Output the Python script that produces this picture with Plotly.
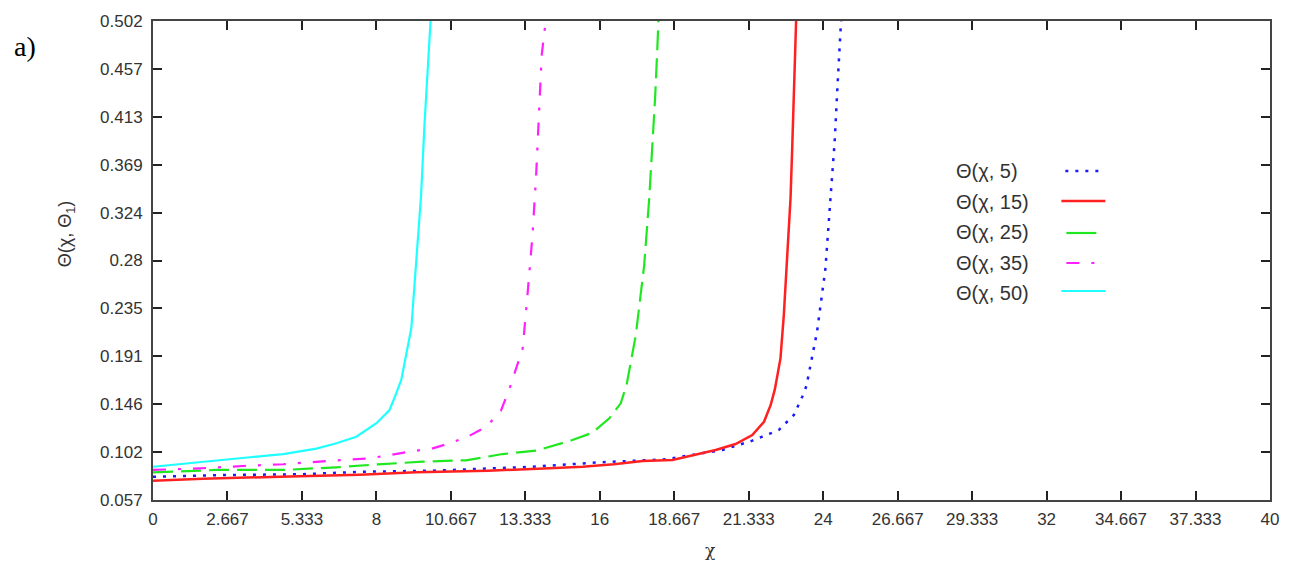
import plotly.graph_objects as go

# ---- data ----
x_ticks = [0, 2.667, 5.333, 8, 10.667, 13.333, 16, 18.667, 21.333, 24, 26.667, 29.333, 32, 34.667, 37.333, 40]
x_ticktext = ["0", "2.667", "5.333", "8", "10.667", "13.333", "16", "18.667", "21.333", "24",
              "26.667", "29.333", "32", "34.667", "37.333", "40"]
y_ticks = [0.057, 0.1015, 0.146, 0.1905, 0.235, 0.2795, 0.324, 0.3685, 0.413, 0.4575, 0.502]
y_ticktext = ["0.057", "0.102", "0.146", "0.191", "0.235", "0.28", "0.324", "0.369", "0.413", "0.457", "0.502"]

series_names = ["Θ(χ, 5)", "Θ(χ, 15)", "Θ(χ, 25)", "Θ(χ, 35)", "Θ(χ, 50)"]

blue_x = [0, 2.63, 5.25, 7.64, 10.02, 13.59, 15.98, 18.36, 20.39, 21.46, 22.41, 22.95, 23.25, 23.40,
          23.78, 24.08, 24.26, 24.41, 24.52, 24.64]
blue_y = [0.0786, 0.0802, 0.0809, 0.0833, 0.0842, 0.0879, 0.0920, 0.0948, 0.1035, 0.1121, 0.122, 0.136,
          0.153, 0.163, 0.2134, 0.272, 0.337, 0.3899, 0.4456, 0.502]

red_x = [0, 1.78, 4.54, 7.4, 9.43, 12.0, 14.19, 15.38, 16.5, 17.53, 18.6, 19.2, 20.15, 20.86, 21.46,
         21.88, 22.12, 22.27, 22.47, 22.59, 22.71, 22.83, 22.89, 22.95, 23.03]
red_y = [0.0749, 0.0768, 0.0786, 0.0805, 0.0827, 0.0842, 0.0864, 0.0879, 0.0902, 0.0932, 0.0942, 0.0979,
         0.1035, 0.109, 0.1174, 0.1297, 0.1453, 0.160, 0.1886, 0.2289, 0.2846, 0.3373, 0.3837, 0.4456, 0.502]

green_x = [0, 2.28, 4.66, 6.57, 8.23, 9.66, 11.21, 12.52, 13.72, 15.02, 15.74, 16.34, 16.75, 16.96,
           17.29, 17.59, 17.77, 17.88, 17.98, 18.06, 18.10]
green_y = [0.0827, 0.0849, 0.0849, 0.0874, 0.0904, 0.0926, 0.0939, 0.0997, 0.1028, 0.1127, 0.1195, 0.1329,
           0.1468, 0.164, 0.2103, 0.2753, 0.3373, 0.3837, 0.4302, 0.4767, 0.502]

magenta_x = [0, 1.68, 3.23, 4.66, 6.21, 7.76, 9.19, 10.02, 10.62, 11.27, 11.93, 12.46, 12.76, 13.24,
             13.42, 13.59, 13.72, 13.81, 13.92, 14.04]
magenta_y = [0.0849, 0.0864, 0.0886, 0.0902, 0.0932, 0.0957, 0.1019, 0.105, 0.1097, 0.1158, 0.125, 0.140,
             0.160, 0.198, 0.2505, 0.303, 0.359, 0.4147, 0.4704, 0.497]

cyan_x = [0, 1.44, 2.28, 3.47, 4.66, 5.85, 6.57, 7.28, 8.0, 8.47, 8.71, 8.89, 9.25, 9.43, 9.60, 9.72,
          9.88, 9.94]
cyan_y = [0.0879, 0.0917, 0.0942, 0.0967, 0.0997, 0.1047, 0.1097, 0.1158, 0.1283, 0.1406, 0.156, 0.1685,
          0.2165, 0.2846, 0.340, 0.405, 0.4735, 0.502]

# ---- styling ----
colors = ["#1a1aff", "#ff2020", "#20e820", "#ff20ff", "#20ffff"]
dashes = ["3px,7px", "solid", "20px,8px", "13px,12px,3px,12px", "solid"]
legend_dashes = ["3px,7px", "solid", "solid", "13px,12px,3px,12px", "solid"]
widths = [2.5, 2.5, 2.2, 2.2, 2.2]

xs = [blue_x, red_x, green_x, magenta_x, cyan_x]
ys = [blue_y, red_y, green_y, magenta_y, cyan_y]

fig = go.Figure()
for name, x, y, c, d, w in zip(series_names, xs, ys, colors, dashes, widths):
    fig.add_trace(go.Scatter(x=x, y=y, mode="lines", name=name,
                             line=dict(color=c, dash=d, width=w), showlegend=False))

L, R, T, B = 153, 1272, 21, 500
W, H = 1291, 561

def px(xp):
    return (xp - L) / (R - L)

def py(yp):
    return (B - yp) / (B - T)

annotations = []
shapes = []
legend_rows = [171, 202, 232, 263, 293]
line_rows = [171, 201, 233, 263, 291]
line_x0 = [1067, 1063, 1068, 1068, 1063]
line_x1 = [1104, 1107, 1098, 1098, 1107]
for name, yr, yl, c, d, w, a0, a1 in zip(series_names, legend_rows, line_rows, colors,
                                          legend_dashes, widths, line_x0, line_x1):
    annotations.append(dict(x=px(955), y=py(yr), xref="paper", yref="paper", text=name,
                            showarrow=False, xanchor="left", yanchor="middle",
                            font=dict(family="Liberation Sans, Arial", size=20, color="#333333")))
    shapes.append(dict(type="line", xref="paper", yref="paper", x0=px(a0), x1=px(a1),
                       y0=py(yl), y1=py(yl), line=dict(color=c, dash=d, width=w)))

annotations.append(dict(x=px(66), y=py(234), xref="paper", yref="paper",
                        text="Θ(χ, Θ<sub>1</sub>)", textangle=-90, showarrow=False,
                        xanchor="center", yanchor="middle",
                        font=dict(family="Liberation Sans, Arial", size=18, color="#333333")))
annotations.append(dict(x=px(711), y=py(550), xref="paper", yref="paper",
                        text="χ", showarrow=False, xanchor="center", yanchor="middle",
                        font=dict(family="DejaVu Serif, Liberation Serif", size=17, color="#333333")))
annotations.append(dict(x=px(12), y=py(46), xref="paper", yref="paper",
                        text="a)", showarrow=False, xanchor="left", yanchor="middle",
                        font=dict(family="Liberation Serif, Times New Roman", size=28, color="#000000")))

tick_font = dict(family="Liberation Sans, Arial", size=17, color="#333333")

fig.update_layout(
    width=W, height=H,
    margin=dict(l=L, r=W - R, t=T, b=H - B, pad=0),
    paper_bgcolor="white", plot_bgcolor="white",
    annotations=annotations, shapes=shapes,
    xaxis=dict(range=[0, 40], tickmode="array", tickvals=x_ticks, ticktext=x_ticktext,
               showgrid=False, zeroline=False, showline=True, linecolor="#444444", linewidth=2,
               mirror="ticks", ticks="inside", ticklen=9, tickwidth=2, tickcolor="#222222",
               tickfont=tick_font, ticklabelstandoff=3),
    yaxis=dict(range=[0.057, 0.502], tickmode="array", tickvals=y_ticks, ticktext=y_ticktext,
               showgrid=False, zeroline=False, showline=True, linecolor="#444444", linewidth=2,
               mirror="ticks", ticks="inside", ticklen=9, tickwidth=2, tickcolor="#222222",
               tickfont=tick_font, ticklabelstandoff=5),
)

fig.write_html("out.html")
